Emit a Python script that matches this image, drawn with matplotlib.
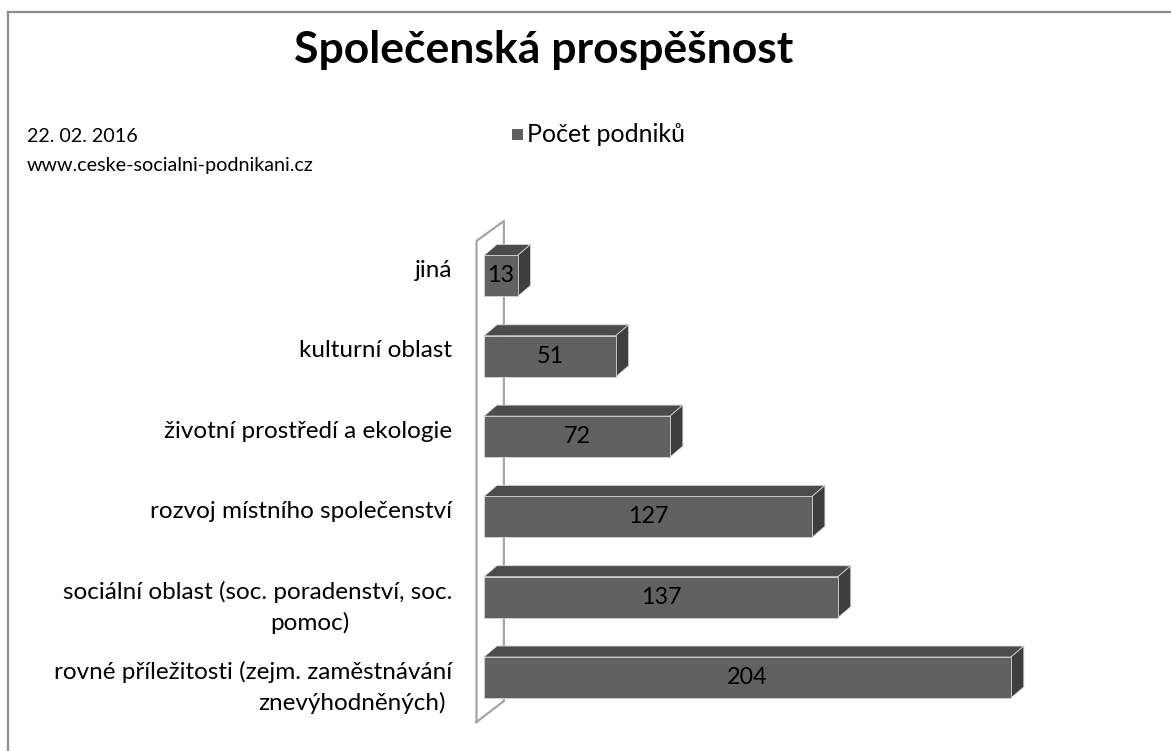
import numpy as np
import matplotlib
matplotlib.use("Agg")
import matplotlib.pyplot as plt
from matplotlib.patches import Polygon, Rectangle
from matplotlib.lines import Line2D

# ===================== DATA ===================== #

categories = [
    "rovné příležitosti (zejm. zaměstnávání",
    "sociální oblast (soc. poradenství, soc.",
    "rozvoj místního společenství",
    "životní prostředí a ekologie",
    "kulturní oblast",
    "jiná",
]
second_lines = ["znevýhodněných)", "pomoc)", "", "", "", ""]
values = [204, 137, 127, 72, 51, 13]
series_name = "Počet podniků"
title = "Společenská prospěšnost"
date_text = "22. 02. 2016"
web_text = "www.ceske-socialni-podnikani.cz"

# ===================== STYLE / LAYOUT ===================== #

W, H = 1171, 751
FRONT = "#616161"
TOP = "#4b4b4b"
SIDE = "#3e3e3e"
EDGE = "#d4d4d4"
WALL = "#a6a6a6"
FS = 17.5
plt.rcParams["font.family"] = ["Lato", "DejaVu Sans"]

# horizontal centre (px) of the wrapped second line of a label
second_line_center = {"znevýhodněných)": 352, "pomoc)": 310}

fig = plt.figure(figsize=(W / 100, H / 100), dpi=100)


def fx(px):
    return px / W


def fy(py):
    return 1 - py / H


# outer frame of the chart area
fig.add_artist(Line2D([fx(7.5), fx(7.5)], [fy(11.5), 0], color="#8c8c8c", lw=1.6))
fig.add_artist(Line2D([fx(7.5), 1], [fy(11.5), fy(11.5)], color="#8c8c8c", lw=1.6))

# plot area: x in value units, y in category index
ax = fig.add_axes([fx(470), 0, fx(1100) - fx(470), (751 - 200) / H])
ax.set_xlim(-5.42, 238.5)
ax.set_ylim(-0.915, 5.946)
ax.axis("off")
px_per_unit = (fx(1100) - fx(470)) * W / (238.5 + 5.42)

h = 0.51        # bar thickness (category units)
dx = 5.0        # depth offset along x (value units)
dy = 0.137      # depth offset along y

# back wall (drawn behind the bars)
wall_front_x, wall_back_x = -2.9, 7.7
wf = [-0.554, 5.436]
wb = [-0.293, 5.685]
ax.plot([wall_front_x, wall_front_x, wall_back_x, wall_back_x, wall_front_x],
        [wf[0], wf[1], wb[1], wb[0], wf[0]],
        color=WALL, lw=1.6, zorder=1, clip_on=False)

label_x = (452 - 484) / px_per_unit
y_pos = np.arange(len(values))
for y, v, c1, c2 in zip(y_pos, values, categories, second_lines):
    y0, y1 = y - h / 2, y + h / 2
    ax.add_patch(Polygon([(0, y1), (v, y1), (v + dx, y1 + dy), (dx, y1 + dy)],
                         closed=True, facecolor=TOP, edgecolor=EDGE, lw=0.6, zorder=3))
    ax.add_patch(Polygon([(v, y0), (v + dx, y0 + dy), (v + dx, y1 + dy), (v, y1)],
                         closed=True, facecolor=SIDE, edgecolor=EDGE, lw=0.6, zorder=3))
    ax.add_patch(Rectangle((0, y0), v, h, facecolor=FRONT, edgecolor=EDGE,
                           lw=0.6, zorder=4))
    ax.text(v / 2, y, str(v), ha="center", va="center", fontsize=16.8,
            color="black", zorder=5)
    # category labels
    ly = y + dy / 2
    ax.text(label_x, ly, c1, ha="right", va="center", fontsize=FS, clip_on=False)
    if c2:
        cx = (second_line_center[c2] - 484) / px_per_unit
        ax.text(cx, ly - 0.39, c2, ha="center", va="center", fontsize=FS,
                clip_on=False)

# title, notes, legend
fig.text(fx(544), fy(50), title, ha="center", va="center", fontsize=32,
         fontweight="bold")
fig.text(fx(27), fy(137), date_text, ha="left", va="center", fontsize=14.2)
fig.text(fx(27), fy(166), web_text, ha="left", va="center", fontsize=14.2)
fig.add_artist(Rectangle((fx(512), fy(140)), fx(11), 1 - fy(11),
                         facecolor=FRONT, edgecolor="none"))
fig.text(fx(527), fy(134), series_name, ha="left", va="center", fontsize=18)

fig.savefig("out.png", dpi=100)
